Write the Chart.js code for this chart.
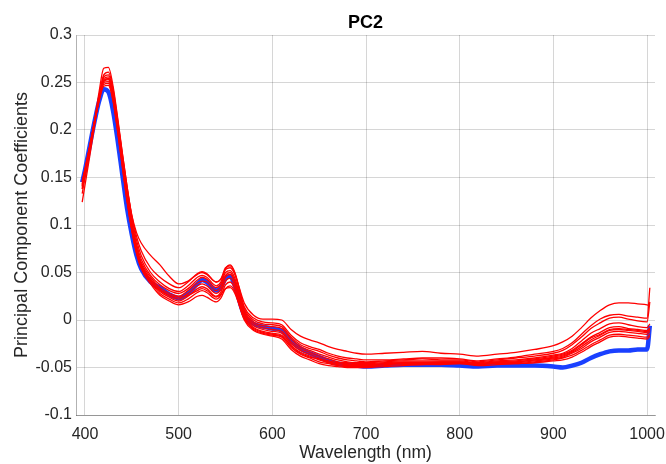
<!DOCTYPE html>
<html>
<head>
<meta charset="utf-8">
<script src="https://cdn.jsdelivr.net/npm/chart.js@4.4.1/dist/chart.umd.min.js"></script>
<style>
html,body{margin:0;padding:0;background:#fff;}
#wrap{width:666px;height:464px;position:relative;}
</style>
</head>
<body>
<div id="wrap"><canvas id="c" width="666" height="464"></canvas></div>
<script>
// ---- data ----
const wavelengths = [
  397,400,405,410,415,420,425,430,435,440,
  445,450,455,460,470,480,490,500,510,
  520,525,530,540,545,550,555,560,570,580,
  590,600,610,620,630,640,650,660,670,680,
  690,700,720,740,760,780,800,820,840,860,
  880,900,910,920,930,940,950,960,970,980,990,1000,1003
];

const blueMean = [
  0.145,0.158,0.183,0.208,0.230,0.243,0.240,0.220,0.188,0.152,
  0.117,0.090,0.068,0.054,0.040,0.034,0.027,0.023,0.028,
  0.038,0.042,0.040,0.031,0.034,0.044,0.046,0.036,0.005,-0.004,
  -0.007,-0.009,-0.011,-0.022,-0.030,-0.035,-0.039,-0.043,-0.046,-0.047,
  -0.048,-0.049,-0.048,-0.047,-0.047,-0.047,-0.048,-0.049,-0.048,-0.048,
  -0.048,-0.049,-0.050,-0.048,-0.045,-0.040,-0.036,-0.033,-0.032,-0.032,-0.031,-0.031,-0.006
];

const red1 = [
  0.138,0.152,0.178,0.206,0.233,0.252,0.254,0.238,0.208,0.172,
  0.138,0.110,0.092,0.081,0.068,0.058,0.046,0.038,0.041,
  0.048,0.050,0.048,0.040,0.043,0.053,0.055,0.048,0.018,0.005,
  0.001,0.001,0.000,-0.010,-0.017,-0.021,-0.024,-0.028,-0.031,-0.033,
  -0.035,-0.036,-0.035,-0.034,-0.033,-0.035,-0.036,-0.038,-0.036,-0.034,
  -0.031,-0.027,-0.023,-0.017,-0.008,0.002,0.010,0.016,0.018,0.018,0.017,0.016,0.015
];
const red2 = [
  0.133,0.150,0.178,0.208,0.240,0.265,0.266,0.246,0.212,0.175,
  0.140,0.108,0.084,0.068,0.050,0.040,0.033,0.030,0.036,
  0.045,0.047,0.045,0.036,0.040,0.054,0.058,0.050,0.014,0.002,
  -0.002,-0.003,-0.005,-0.016,-0.024,-0.028,-0.031,-0.035,-0.038,-0.040,
  -0.041,-0.042,-0.042,-0.041,-0.040,-0.040,-0.041,-0.043,-0.041,-0.039,
  -0.036,-0.033,-0.030,-0.024,-0.015,-0.006,0.001,0.005,0.006,0.004,0.003,0.002,0.034
];
const red3 = [
  0.124,0.142,0.172,0.203,0.235,0.258,0.261,0.243,0.210,0.174,
  0.140,0.110,0.088,0.073,0.055,0.045,0.038,0.034,0.040,
  0.049,0.051,0.049,0.040,0.043,0.055,0.057,0.049,0.012,0.000,
  -0.004,-0.005,-0.007,-0.018,-0.026,-0.030,-0.033,-0.037,-0.040,-0.042,
  -0.043,-0.044,-0.043,-0.042,-0.041,-0.042,-0.042,-0.044,-0.042,-0.040,
  -0.038,-0.035,-0.032,-0.026,-0.018,-0.009,-0.003,0.002,0.003,0.001,-0.001,-0.002,0.019
];
const red4 = [
  0.142,0.156,0.181,0.208,0.236,0.256,0.258,0.240,0.207,0.170,
  0.135,0.104,0.080,0.064,0.047,0.037,0.031,0.028,0.033,
  0.042,0.045,0.043,0.034,0.038,0.050,0.052,0.044,0.010,-0.002,
  -0.006,-0.007,-0.009,-0.020,-0.028,-0.032,-0.036,-0.039,-0.042,-0.044,
  -0.045,-0.045,-0.044,-0.043,-0.043,-0.043,-0.043,-0.045,-0.043,-0.042,
  -0.040,-0.037,-0.035,-0.030,-0.022,-0.014,-0.009,-0.004,-0.003,-0.005,-0.007,-0.008,-0.004
];
const red5 = [
  0.140,0.155,0.180,0.207,0.234,0.254,0.256,0.238,0.205,0.168,
  0.132,0.101,0.077,0.061,0.045,0.034,0.028,0.025,0.031,
  0.039,0.041,0.040,0.031,0.035,0.047,0.050,0.041,0.008,-0.004,
  -0.008,-0.010,-0.012,-0.023,-0.030,-0.034,-0.038,-0.041,-0.044,-0.045,
  -0.046,-0.046,-0.045,-0.044,-0.044,-0.044,-0.044,-0.046,-0.044,-0.043,
  -0.041,-0.038,-0.036,-0.032,-0.025,-0.018,-0.013,-0.008,-0.007,-0.009,-0.010,-0.011,-0.008
];
const red6 = [
  0.145,0.159,0.183,0.209,0.234,0.252,0.254,0.236,0.203,0.166,
  0.130,0.099,0.075,0.059,0.043,0.032,0.026,0.022,0.028,
  0.036,0.038,0.036,0.028,0.032,0.045,0.048,0.039,0.006,-0.006,
  -0.010,-0.012,-0.014,-0.025,-0.032,-0.036,-0.040,-0.043,-0.045,-0.046,
  -0.047,-0.047,-0.046,-0.045,-0.045,-0.045,-0.045,-0.046,-0.045,-0.044,
  -0.042,-0.040,-0.038,-0.034,-0.028,-0.021,-0.016,-0.011,-0.010,-0.011,-0.012,-0.013,-0.010
];
const red7 = [
  0.138,0.153,0.179,0.206,0.232,0.251,0.253,0.235,0.202,0.165,
  0.129,0.098,0.074,0.058,0.041,0.030,0.024,0.020,0.025,
  0.033,0.035,0.033,0.025,0.029,0.041,0.044,0.036,0.004,-0.008,
  -0.012,-0.014,-0.016,-0.027,-0.034,-0.038,-0.042,-0.045,-0.047,-0.048,
  -0.048,-0.048,-0.047,-0.046,-0.046,-0.046,-0.045,-0.047,-0.045,-0.045,
  -0.043,-0.041,-0.039,-0.035,-0.030,-0.023,-0.018,-0.013,-0.012,-0.013,-0.014,-0.015,-0.012
];
const red8 = [
  0.143,0.157,0.182,0.208,0.232,0.250,0.251,0.233,0.200,0.163,
  0.127,0.096,0.072,0.056,0.040,0.028,0.022,0.018,0.022,
  0.029,0.031,0.029,0.022,0.026,0.037,0.040,0.033,0.002,-0.010,
  -0.014,-0.016,-0.018,-0.029,-0.036,-0.040,-0.044,-0.046,-0.048,-0.049,
  -0.049,-0.049,-0.048,-0.047,-0.047,-0.046,-0.046,-0.047,-0.046,-0.046,
  -0.044,-0.042,-0.040,-0.037,-0.032,-0.026,-0.021,-0.016,-0.015,-0.016,-0.017,-0.018,-0.015
];
const red9 = [
  0.146,0.159,0.183,0.208,0.231,0.248,0.249,0.231,0.198,0.161,
  0.125,0.094,0.070,0.054,0.038,0.026,0.020,0.016,0.019,
  0.025,0.026,0.024,0.019,0.023,0.033,0.036,0.030,0.000,-0.011,
  -0.015,-0.017,-0.020,-0.031,-0.038,-0.042,-0.046,-0.048,-0.049,-0.050,
  -0.050,-0.050,-0.049,-0.048,-0.047,-0.047,-0.046,-0.048,-0.047,-0.046,
  -0.045,-0.043,-0.042,-0.039,-0.034,-0.028,-0.023,-0.018,-0.017,-0.018,-0.019,-0.020,-0.017
];
const red10 = [
  0.141,0.155,0.180,0.206,0.230,0.246,0.247,0.230,0.197,0.160,
  0.124,0.094,0.071,0.056,0.041,0.031,0.026,0.024,0.026,
  0.031,0.033,0.031,0.024,0.027,0.033,0.034,0.028,0.001,-0.009,
  -0.013,-0.015,-0.017,-0.027,-0.035,-0.039,-0.041,-0.044,-0.046,-0.047,
  -0.047,-0.047,-0.046,-0.045,-0.045,-0.044,-0.044,-0.046,-0.044,-0.044,
  -0.042,-0.039,-0.037,-0.033,-0.026,-0.019,-0.015,-0.010,-0.009,-0.010,-0.011,-0.012,-0.009
];
const redSeries = [red1, red2, red3, red4, red5, red6, red7, red8, red9, red10];

const xTickValues = [400, 500, 600, 700, 800, 900, 1000];
const yTickValues = [-0.1, -0.05, 0, 0.05, 0.1, 0.15, 0.2, 0.25, 0.3];

const chartTitle = 'PC2';
const xTitle = 'Wavelength (nm)';
const yTitle = 'Principal Component Coefficients';

// ---- build chart ----
const toPoints = arr => wavelengths.map((w, i) => ({x: w, y: arr[i]}));

const datasets = [];
redSeries.forEach((s, k) => {
  datasets.push({
    label: 'Sample ' + (k + 1),
    data: toPoints(s),
    borderColor: '#ff0000',
    borderWidth: 1.3,
    pointRadius: 0,
    cubicInterpolationMode: 'monotone',
    fill: false,
    order: 1
  });
});
datasets.push({
  label: 'Mean',
  data: toPoints(blueMean),
  borderColor: '#1a40ff',
  borderWidth: 4.5,
  pointRadius: 0,
  cubicInterpolationMode: 'monotone',
  fill: false,
  order: 2
});

const gridColor = 'rgba(0,0,0,0.16)';
const textColor = '#262626';
const fontFamily = 'Arial, "Liberation Sans", sans-serif';

new Chart(document.getElementById('c'), {
  type: 'line',
  data: {datasets},
  options: {
    responsive: false,
    animation: false,
    layout: {padding: {left: 0, right: 11, top: 0, bottom: 0}},
    plugins: {
      legend: {display: false},
      tooltip: {enabled: false},
      title: {
        display: true,
        text: chartTitle,
        fullSize: false,
        color: '#000',
        font: {family: fontFamily, size: 18, weight: 'bold'},
        padding: {top: 12, bottom: 1.4}
      }
    },
    scales: {
      x: {
        type: 'linear',
        min: 390.4,
        max: 1008.5,
        afterFit: a => { a.height = 49; a.paddingLeft = 0; a.paddingRight = 0; },
        afterBuildTicks: a => { a.ticks = xTickValues.map(v => ({value: v})); },
        grid: {color: gridColor, drawTicks: false, lineWidth: 1},
        border: {display: true, color: 'rgba(0,0,0,0.3)'},
        ticks: {
          color: textColor,
          font: {family: fontFamily, size: 16},
          padding: 10,
          maxRotation: 0,
          callback: v => String(v)
        },
        title: {
          display: true,
          text: xTitle,
          color: textColor,
          font: {family: fontFamily, size: 17.5},
          padding: {top: 0, bottom: 0}
        }
      },
      y: {
        type: 'linear',
        min: -0.1,
        max: 0.3,
        afterFit: a => { a.width = 76; a.paddingTop = 0; a.paddingBottom = 0; },
        afterBuildTicks: a => { a.ticks = yTickValues.map(v => ({value: v})); },
        grid: {color: gridColor, drawTicks: false, lineWidth: 1},
        border: {display: true, color: 'rgba(0,0,0,0.3)'},
        ticks: {
          color: textColor,
          font: {family: fontFamily, size: 16},
          padding: 4,
          callback: v => String(Number(v.toFixed(2)))
        },
        title: {
          display: true,
          text: yTitle,
          color: textColor,
          font: {family: fontFamily, size: 18},
          padding: {top: 11, bottom: 0}
        }
      }
    }
  }
});
</script>
</body>
</html>
